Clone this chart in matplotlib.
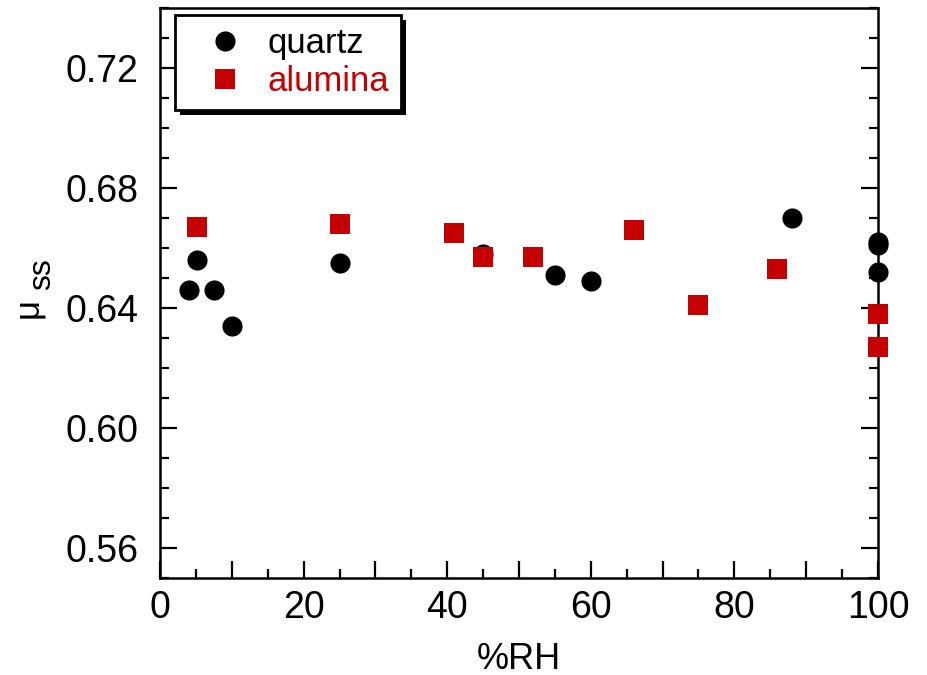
import matplotlib
matplotlib.use("Agg")
import matplotlib.pyplot as plt
from matplotlib.ticker import MultipleLocator, FuncFormatter
from matplotlib.patches import Rectangle
from matplotlib.transforms import IdentityTransform

plt.rcParams['font.family'] = ['Liberation Sans', 'DejaVu Sans']

# Steady-state friction coefficient vs relative humidity
quartz_rh = [4, 5.2, 7.5, 10, 25, 45, 55, 60, 88, 100, 100, 100]
quartz_mu = [0.646, 0.656, 0.646, 0.634, 0.655, 0.658, 0.651, 0.649, 0.670, 0.662, 0.661, 0.652]

alumina_rh = [5.2, 25, 41, 45, 52, 66, 75, 86, 100, 100]
alumina_mu = [0.667, 0.668, 0.665, 0.657, 0.657, 0.666, 0.641, 0.653, 0.638, 0.627]

red = '#c40000'
W, H = 928, 675

fig = plt.figure(figsize=(W / 100, H / 100), dpi=100)
ax = fig.add_axes([160 / W, 1 - 578 / H, (878 - 160) / W, (578 - 8) / H])

ax.plot(quartz_rh, quartz_mu, 'o', color='black', ms=14.5, mew=0,
        label='quartz', clip_on=False, zorder=3)
ax.plot(alumina_rh, alumina_mu, 's', color=red, ms=14.5, mew=0,
        label='alumina', clip_on=False, zorder=4)

ax.set_xlim(0, 100)
ax.set_ylim(0.55, 0.74)

ax.xaxis.set_major_locator(MultipleLocator(10))
ax.xaxis.set_minor_locator(MultipleLocator(5))
ax.xaxis.set_major_formatter(FuncFormatter(lambda v, p: f"{v:.0f}" if round(v) % 20 == 0 else ""))
ax.yaxis.set_major_locator(MultipleLocator(0.04))
ax.yaxis.set_minor_locator(MultipleLocator(0.01))
ax.yaxis.set_major_formatter(FuncFormatter(lambda v, p: f"{v:.2f}"))

ax.tick_params(which='both', direction='in', top=False, right=True,
               width=1.6, labelsize=27, colors='black')
ax.tick_params(which='major', length=12)
ax.tick_params(which='minor', length=6.5)
ax.tick_params(axis='x', which='major', pad=9)
ax.tick_params(axis='y', which='major', pad=15.5)
for s in ax.spines.values():
    s.set_linewidth(1.8)

ax.set_xlabel('%RH', fontsize=26, labelpad=11)

# y-axis label: mu with a full-size "ss" subscript
fig.text(37 / W, 1 - 318 / H, 'μ', fontsize=25, rotation=90,
         rotation_mode='anchor', ha='left', va='baseline')
fig.text(50 / W, 1 - 290 / H, 'ss', fontsize=23, rotation=90,
         rotation_mode='anchor', ha='left', va='baseline')

leg = ax.legend(loc='upper left', bbox_to_anchor=(15 / 718, 1 - 7 / 570),
                fontsize=25, frameon=True, fancybox=False, shadow=False,
                borderpad=0.35, handletextpad=0.12, labelspacing=0.14,
                handlelength=2.18, borderaxespad=0)
leg.get_frame().set_edgecolor('black')
leg.get_frame().set_linewidth(2)
leg.get_frame().set_alpha(1)
leg.get_texts()[1].set_color(red)
leg.set_zorder(6)

# solid black drop shadow behind the legend box
fig.canvas.draw()
bb = leg.get_frame().get_window_extent()
ax.add_patch(Rectangle((bb.x0 + 5, bb.y0 - 5), bb.width, bb.height,
                       transform=IdentityTransform(), facecolor='black',
                       edgecolor='none', clip_on=False, zorder=5.5))

fig.savefig('out.png', dpi=100)
